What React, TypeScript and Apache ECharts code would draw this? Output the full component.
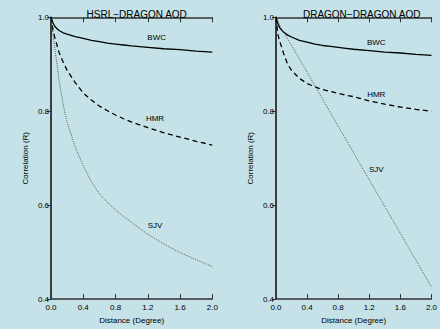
import React, { useEffect, useRef } from "react";
import * as echarts from "echarts";

const distances = [0, 0.025, 0.05, 0.1, 0.15, 0.2, 0.3, 0.4, 0.5, 0.6, 0.7, 0.8, 0.9, 1.0, 1.2, 1.4, 1.6, 1.8, 2.0];

const leftBWC = [1.0, 0.988, 0.98, 0.972, 0.967, 0.964, 0.959, 0.955, 0.951, 0.948, 0.945, 0.943, 0.941, 0.939, 0.936, 0.933, 0.931, 0.928, 0.926];
const leftHMR = [1.0, 0.972, 0.955, 0.925, 0.905, 0.887, 0.861, 0.839, 0.824, 0.811, 0.801, 0.792, 0.784, 0.777, 0.765, 0.754, 0.745, 0.736, 0.728];
const leftSJV = [1.0, 0.962, 0.93, 0.866, 0.815, 0.776, 0.724, 0.684, 0.65, 0.624, 0.606, 0.59, 0.576, 0.563, 0.538, 0.517, 0.499, 0.484, 0.469];

const rightBWC = [1.0, 0.986, 0.977, 0.968, 0.962, 0.958, 0.951, 0.947, 0.943, 0.94, 0.938, 0.936, 0.934, 0.932, 0.929, 0.926, 0.924, 0.921, 0.919];
const rightHMR = [1.0, 0.963, 0.948, 0.922, 0.9, 0.887, 0.87, 0.859, 0.852, 0.846, 0.842, 0.838, 0.834, 0.831, 0.822, 0.815, 0.809, 0.804, 0.8];
const rightSJV = [1.0, 0.991, 0.982, 0.968, 0.954, 0.94, 0.912, 0.883, 0.854, 0.826, 0.797, 0.768, 0.74, 0.711, 0.654, 0.597, 0.54, 0.483, 0.426];

const panelTitles = ["HSRL\u2212DRAGON AOD", "DRAGON\u2212DRAGON AOD"];
const seriesNames = ["BWC", "HMR", "SJV"];
// label anchor positions in data units [distance, correlation]
const leftLabelPos = [[1.31, 0.956], [1.29, 0.785], [1.29, 0.556]];
const rightLabelPos = [[1.29, 0.947], [1.29, 0.836], [1.29, 0.675]];

const FONT = "Liberation Sans";
const AXIS_COLOR = "#333";
const BG = "#c4e2e7";

function pairs(ys: number[]) {
  return distances.map((d, i) => [d, ys[i]]);
}

export default function App() {
  const ref = useRef<HTMLDivElement>(null);
  useEffect(() => {
    document.body.style.margin = "0";
    document.body.style.background = BG;
    const chart = echarts.init(ref.current!, null, { renderer: "svg" });

    const grids = [
      { left: 51, right: 227.7, top: 17.3, bottom: 27.3 },
      { left: 276, right: 2.7, top: 17.3, bottom: 27.3 },
    ];

    const xAxes: any[] = [];
    const yAxes: any[] = [];
    [0, 1].forEach((g) => {
      xAxes.push({
        type: "value", gridIndex: g, min: 0, max: 2, interval: 0.4, position: "bottom",
        name: "Distance (Degree)", nameLocation: "middle", nameGap: 15,
        nameTextStyle: { fontFamily: FONT, fontSize: 8, color: "#000", verticalAlign: "top" },
        axisLine: { lineStyle: { color: AXIS_COLOR, width: 1.5 } },
        axisTick: { inside: true, length: 5, lineStyle: { color: AXIS_COLOR, width: 1 } },
        axisLabel: { fontFamily: FONT, fontSize: 8, color: "#000", margin: 4, formatter: (v: number) => v.toFixed(1) },
        splitLine: { show: false },
      });
      xAxes.push({
        type: "value", gridIndex: g, min: 0, max: 2, interval: 0.4, position: "top",
        axisLine: { lineStyle: { color: AXIS_COLOR, width: 1.5 } },
        axisTick: { inside: true, length: 5, lineStyle: { color: AXIS_COLOR, width: 1 } },
        axisLabel: { show: false },
        splitLine: { show: false },
      });
      yAxes.push({
        type: "value", gridIndex: g, min: 0.4, max: 1.0, interval: 0.2, position: "left",
        name: "Correlation (R)", nameLocation: "middle", nameGap: 22, nameRotate: 90,
        nameTextStyle: { fontFamily: FONT, fontSize: 8, color: "#000" },
        axisLine: { lineStyle: { color: AXIS_COLOR, width: 1.5 } },
        axisTick: { inside: false, length: 4, lineStyle: { color: AXIS_COLOR, width: 1 } },
        axisLabel: { fontFamily: FONT, fontSize: 8, color: "#000", margin: 2, formatter: (v: number) => v.toFixed(1) },
        splitLine: { show: false },
      });
      yAxes.push({
        type: "value", gridIndex: g, min: 0.4, max: 1.0, interval: 0.2, position: "right",
        axisLine: { lineStyle: { color: AXIS_COLOR, width: 1.5 } },
        axisTick: { inside: true, length: 4, lineStyle: { color: AXIS_COLOR, width: 1 } },
        axisLabel: { show: false },
        splitLine: { show: false },
      });
    });

    const styles = [
      { type: "solid", width: 1.3, color: "#000" },
      { type: [5, 3.5], width: 1.3, color: "#000" },
      { type: [0.8, 1.2], width: 1, color: "#444" },
    ];

    const panelData = [
      [leftBWC, leftHMR, leftSJV],
      [rightBWC, rightHMR, rightSJV],
    ];
    const labelPos = [leftLabelPos, rightLabelPos];

    const series: any[] = [];
    [0, 1].forEach((g) => {
      panelData[g].forEach((ys, k) => {
        series.push({
          type: "line",
          name: seriesNames[k],
          xAxisIndex: g * 2,
          yAxisIndex: g * 2,
          data: pairs(ys),
          smooth: false,
          showSymbol: false,
          symbol: "none",
          lineStyle: styles[k],
          markPoint: {
            symbol: "circle",
            symbolSize: 1,
            itemStyle: { color: "rgba(0,0,0,0)" },
            label: {
              show: true, position: "inside", formatter: "{b}",
              fontFamily: FONT, fontSize: 8, color: "#000",
            },
            data: [{ name: seriesNames[k], coord: labelPos[g][k] }],
          },
        });
      });
    });

    chart.setOption({
      animation: false,
      backgroundColor: BG,
      title: [
        { text: panelTitles[0], left: 131.7, top: 4, textAlign: "center",
          textStyle: { fontFamily: FONT, fontSize: 10, fontWeight: "normal", color: "#000" } },
        { text: panelTitles[1], left: 356.7, top: 4, textAlign: "center",
          textStyle: { fontFamily: FONT, fontSize: 10, fontWeight: "normal", color: "#000" } },
      ],
      grid: grids,
      xAxis: xAxes,
      yAxis: yAxes,
      series,
    });
    return () => chart.dispose();
  }, []);
  return <div ref={ref} style={{ width: 440, height: 329 }} />;
}
